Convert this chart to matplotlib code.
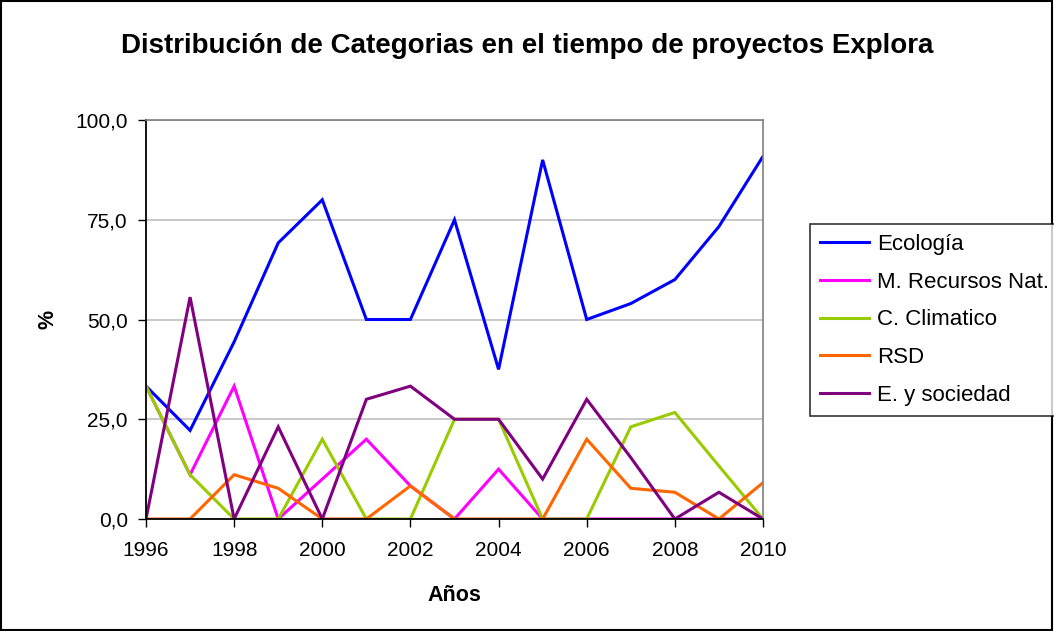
import matplotlib.pyplot as plt
from matplotlib.patches import Rectangle

plt.rcParams["font.family"] = ["Liberation Sans", "DejaVu Sans"]

years = list(range(1996, 2011))
ecologia = [33.3, 22.2, 44.4, 69.2, 80.0, 50.0, 50.0, 75.0, 37.5, 90.0, 50.0, 54.0, 60.0, 73.3, 90.9]
recursos = [33.3, 11.1, 33.3, 0.0, 10.0, 20.0, 8.3, 0.0, 12.5, 0.0, 0.0, 0.0, 0.0, 0.0, 0.0]
climatico = [33.3, 11.1, 0.0, 0.0, 20.0, 0.0, 0.0, 25.0, 25.0, 0.0, 0.0, 23.1, 26.7, 13.3, 0.0]
rsd = [0.0, 0.0, 11.1, 7.7, 0.0, 0.0, 8.3, 0.0, 0.0, 0.0, 20.0, 7.7, 6.7, 0.0, 9.1]
sociedad = [0.0, 55.6, 0.0, 23.1, 0.0, 30.0, 33.3, 25.0, 25.0, 10.0, 30.0, 15.4, 0.0, 6.7, 0.0]

series = [
    ("Ecología", ecologia, "#0000FF"),
    ("M. Recursos Nat.", recursos, "#FF00FF"),
    ("C. Climatico", climatico, "#99CC00"),
    ("RSD", rsd, "#FF6600"),
    ("E. y sociedad", sociedad, "#800080"),
]

W, H = 1054, 631
fig = plt.figure(figsize=(W / 100, H / 100), dpi=100)
# borde del gráfico
fig.add_artist(Rectangle((0.001, 0.002), 0.997, 0.996, transform=fig.transFigure,
                         fill=False, edgecolor="black", linewidth=1.5))

ax = fig.add_axes([146 / W, 1 - 519 / H, (763 - 146) / W, (519 - 120) / H])

for name, vals, color in series:
    ax.plot(years, vals, color=color, linewidth=2.2, label=name, solid_joinstyle="miter")

ax.set_xlim(1996, 2010)
ax.set_ylim(0, 100)
ax.set_xticks(range(1996, 2011, 2))
ax.set_yticks([0, 25, 50, 75, 100])
ax.set_yticklabels(["0,0", "25,0", "50,0", "75,0", "100,0"])
ax.tick_params(labelsize=15, direction="out", length=6, width=1)
ax.tick_params(axis="y", pad=7)
ax.tick_params(axis="x", pad=10)
ax.grid(axis="y", color="#C0C0C0", linewidth=1.2)
ax.set_axisbelow(True)
for side in ("top", "right"):
    ax.spines[side].set_color("#808080")
    ax.spines[side].set_linewidth(1.2)
for side in ("left", "bottom"):
    ax.spines[side].set_linewidth(1.3)

ax.set_xlabel("Años", fontsize=15.5, fontweight="bold", labelpad=18)
ax.set_ylabel("%", fontsize=15.5, fontweight="bold", labelpad=12)

fig.text(0.5, 1 - 46 / H, "Distribución de Categorias en el tiempo de proyectos Explora",
         ha="center", va="center", fontsize=20, fontweight="bold")

leg = fig.legend(loc="upper left", bbox_to_anchor=(810 / W, 1 - 224 / H), fontsize=16,
                 frameon=True, fancybox=False, handlelength=2.2, handletextpad=0.35,
                 labelspacing=0.75, borderpad=0.45, borderaxespad=0)
leg.get_frame().set_edgecolor("black")
leg.get_frame().set_linewidth(1.2)

fig.savefig("out.png", dpi=100)
